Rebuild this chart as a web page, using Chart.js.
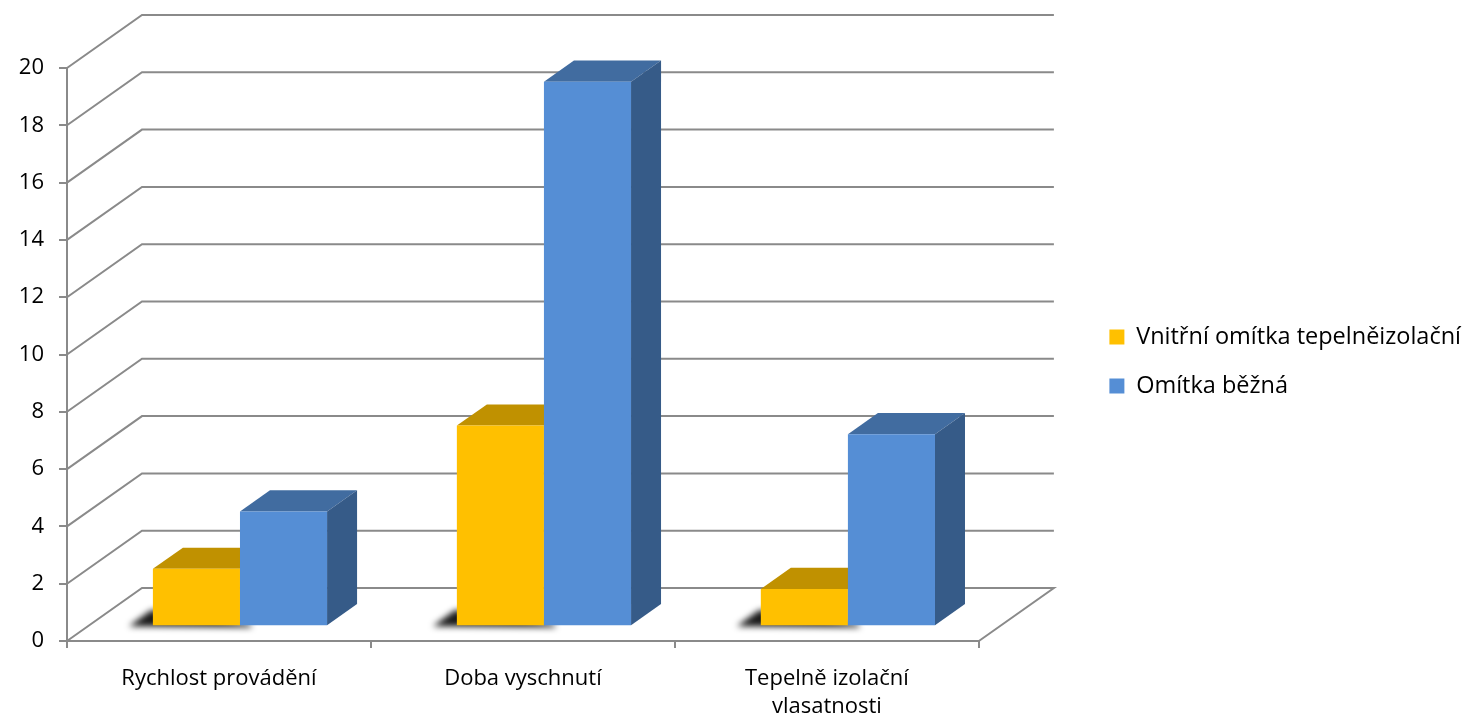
<!DOCTYPE html>
<html lang="cs">
<head>
<meta charset="utf-8">
<title>Porovnání omítek</title>
<script src="https://cdn.jsdelivr.net/npm/chart.js@4.4.0/dist/chart.umd.min.js"></script>
<style>
  html, body { margin: 0; padding: 0; background: #fff; }
  #wrap { width: 1465px; height: 719px; }
</style>
</head>
<body>
<div id="wrap"><canvas id="chart"></canvas></div>
<script>
// ================== DATA ==================
const categories = ['Rychlost provádění', 'Doba vyschnutí', ['Tepelně izolační', 'vlasatnosti']];
const seriesNames = ['Vnitřní omítka tepelněizolační', 'Omítka běžná'];
const thermalPlaster = [2, 7, 1.3];
const commonPlaster = [4, 19, 6.7];
const yTickValues = [0, 2, 4, 6, 8, 10, 12, 14, 16, 18, 20];

// ================== VZHLED ==================
const FONT = { family: '"Open Sans", sans-serif', size: 22, lineHeight: 1.3 };
const LEGEND_FONT = { family: '"Open Sans", sans-serif', size: 23.5 };
const GRID_COLOR = '#8a8a8a';
const frontColors = ['#FFC000', '#558ED5'];
const topColors = ['#C09100', '#416CA0'];
const sideColors = ['#A67C00', '#365B88'];

// posun zadní stěny proti přední rovině (px)
const WALL_DX = 75;
const WALL_DY = -53;
// sloupce stojí uprostřed hloubky
const BAR_FRONT = 0.28;
const BAR_BACK = 0.68;

function poly(ctx, pts, color) {
  ctx.beginPath();
  ctx.moveTo(pts[0][0], pts[0][1]);
  for (let i = 1; i < pts.length; i++) ctx.lineTo(pts[i][0], pts[i][1]);
  ctx.closePath();
  ctx.fillStyle = color;
  ctx.fill();
}

// ================== 3D PLUGIN ==================
const plot3d = {
  id: 'plot3d',
  afterLayout(chart) {
    // legendu posunout o kousek níž
    chart.legend.top += 7;
    chart.legend.bottom += 7;
  },
  beforeDatasetsDraw(chart) {
    const { ctx, chartArea: a, scales: { y } } = chart;

    // zadní stěna + podlaha
    ctx.save();
    ctx.strokeStyle = GRID_COLOR;
    ctx.lineWidth = 2;
    yTickValues.forEach((v, i) => {
      const py = y.getPixelForValue(v);
      ctx.beginPath();
      ctx.moveTo(a.left, py);
      ctx.lineTo(a.left + WALL_DX, py + WALL_DY);
      ctx.lineTo(a.right + WALL_DX, py + WALL_DY);
      if (i === 0) ctx.lineTo(a.right, py);
      ctx.stroke();
    });
    ctx.restore();

    const fx = WALL_DX * BAR_FRONT, fy = WALL_DY * BAR_FRONT;
    const dx = WALL_DX * (BAR_BACK - BAR_FRONT), dy = WALL_DY * (BAR_BACK - BAR_FRONT);

    chart.data.datasets.forEach((ds, i) => {
      const meta = chart.getDatasetMeta(i);
      meta.data.forEach(bar => {
        const p = bar.getProps(['x', 'y', 'base', 'width'], true);
        const L = p.x - p.width / 2 + fx;
        const R = p.x + p.width / 2 + fx;
        const T = p.y + fy;
        const B = p.base + fy;

        // stín na podlaze
        if (i === 0) {
          ctx.save();
          ctx.filter = 'blur(3px)';
          poly(ctx, [[L - 24, B + 1], [L - 2, B - 15], [L + 10, B - 15], [R + 10, B - 1], [R + 12, B + 2]], 'rgba(0,0,0,0.9)');
          ctx.restore();
        }

        poly(ctx, [[L, T], [R, T], [R + dx, T + dy], [L + dx, T + dy]], topColors[i]);
        poly(ctx, [[R, T], [R + dx, T + dy], [R + dx, B + dy], [R, B]], sideColors[i]);
        poly(ctx, [[L, T], [R, T], [R, B], [L, B]], frontColors[i]);
      });
    });
    return false;
  }
};

// ================== GRAF ==================
new Chart(document.getElementById('chart'), {
  type: 'bar',
  data: {
    labels: categories,
    datasets: [
      { label: seriesNames[0], data: thermalPlaster, backgroundColor: frontColors[0] },
      { label: seriesNames[1], data: commonPlaster, backgroundColor: frontColors[1] }
    ]
  },
  options: {
    responsive: true,
    maintainAspectRatio: false,
    animation: false,
    devicePixelRatio: 1,
    layout: { padding: { top: 68, left: 0, right: -6, bottom: 0 } },
    datasets: { bar: { barPercentage: 1, categoryPercentage: 0.573 } },
    plugins: {
      tooltip: { enabled: false },
      legend: {
        position: 'right',
        fullSize: false,
        maxWidth: 500,
        labels: { boxWidth: 15, boxHeight: 15, padding: 25.5, color: '#000', font: LEGEND_FONT }
      }
    },
    scales: {
      x: {
        grid: { display: true, drawOnChartArea: false, drawTicks: true, tickLength: 7, color: GRID_COLOR, lineWidth: 2, offset: true },
        border: { display: true, color: GRID_COLOR, width: 2 },
        ticks: { color: '#000', font: FONT, padding: 16, maxRotation: 0 },
        afterFit(scale) { scale.height = 78; }
      },
      y: {
        min: yTickValues[0],
        max: yTickValues[yTickValues.length - 1],
        ticks: { stepSize: 2, color: '#000', font: FONT, padding: 15 },
        grid: { display: true, drawOnChartArea: false, drawTicks: true, tickLength: 8, color: GRID_COLOR, lineWidth: 2 },
        border: { display: true, color: GRID_COLOR, width: 2 },
        afterFit(scale) { scale.width = 67; }
      },
      spacer: {
        position: 'right',
        display: true,
        grid: { display: false },
        border: { display: false },
        ticks: { display: false },
        afterFit(scale) { scale.width = 105; }
      }
    }
  },
  plugins: [plot3d]
});
</script>
</body>
</html>
